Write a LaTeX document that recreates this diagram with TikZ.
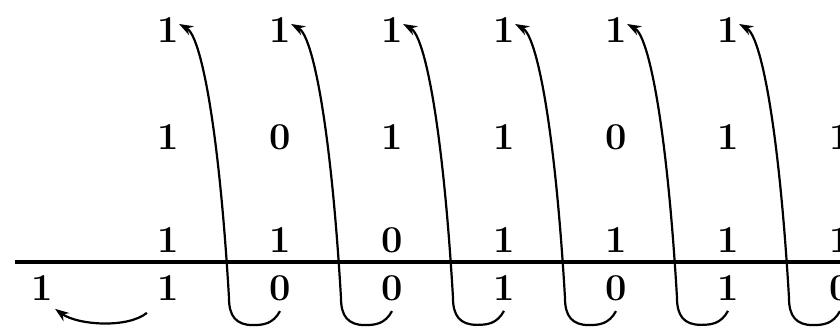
\documentclass[tikz,border=0pt]{standalone}
\usetikzlibrary{arrows.meta}
\tikzset{
  digit/.style={inner sep=1pt, font=\fontsize{19}{22}\selectfont\bfseries},
  hook/.style={line width=1.1pt, -{Stealth[length=7pt,width=5pt]}},
}
\begin{document}
\begin{tikzpicture}[x=0.5pt,y=-0.5pt]
  \useasboundingbox (0,0) rectangle (840,331);
  \clip (0,0) rectangle (840,331);

  % top row
  \foreach \v [count=\i from 0] in {1,1,1,1,1,1}
    \node[digit] (t\i) at (168+112*\i,30) {\v};
  % middle row
  \foreach \v [count=\i from 0] in {1,0,1,1,0,1,1}
    \node[digit] (m\i) at (168+112*\i,137) {\v};
  % row above the rule
  \foreach \v [count=\i from 0] in {1,1,0,1,1,1,1}
    \node[digit] (a\i) at (168+112*\i,240) {\v};
  % row under the rule
  \foreach \v [count=\i from 0] in {1,0,0,1,0,1,0}
    \node[digit] (b\i) at (168+112*\i,288) {\v};
  \node[digit] (bl) at (42,288) {1};

  % the rule
  \draw[line width=1.7pt] (15,262) -- (845,262);

  % hooks from under the rule back to the top row
  \foreach \k in {0,...,5} {
    \pgfmathtruncatemacro{\n}{\k+1}
    \draw[hook] ([yshift=-4pt]b\n.south)
      .. controls +(-7,13) and +(10,0) .. ++(-27,14)
      .. controls +(-17,0) and +(0,18) .. ++(-24,-27)
      .. controls +(-10,-170) and +(22,12) .. ([xshift=-1pt,yshift=3pt]t\k.east);
  }

  % carry to the left
  \draw[hook] ([xshift=-4pt,yshift=-5pt]b0.south west)
    .. controls +(-20,16) and +(22,16) .. ([yshift=-3pt]bl.south east);
\end{tikzpicture}
\end{document}
